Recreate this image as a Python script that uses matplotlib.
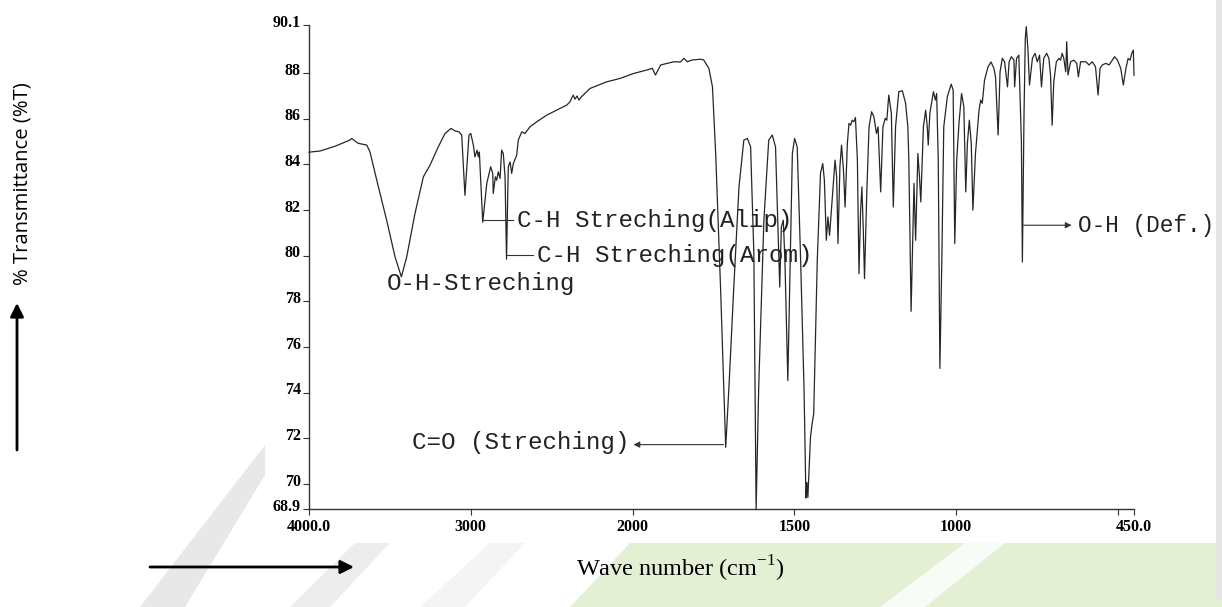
import numpy as np
import matplotlib
matplotlib.use("Agg")
import matplotlib.pyplot as plt
import matplotlib.transforms as mtransforms
from matplotlib.patches import Polygon, Rectangle
from matplotlib.ticker import NullLocator

# FT-IR spectrum: wavenumber (cm-1) and % transmittance
wavenumber = [
    4000, 3932, 3839, 3747, 3736, 3697, 3643, 3623, 3581, 3520,
    3468, 3429, 3396, 3345, 3293, 3252, 3201, 3159, 3122, 3097,
    3073, 3056, 3036, 3011, 3000, 2984, 2974, 2961, 2953, 2947,
    2926, 2916, 2901, 2877, 2864, 2861, 2848, 2840, 2830, 2819,
    2809, 2799, 2788, 2779, 2768, 2757, 2747, 2737, 2716, 2706,
    2685, 2665, 2634, 2592, 2531, 2469, 2407, 2386, 2376, 2366,
    2356, 2343, 2331, 2318, 2263, 2160, 2077, 1996, 1955, 1939,
    1929, 1913, 1872, 1852, 1841, 1831, 1815, 1790, 1780, 1764,
    1753, 1743, 1728, 1712, 1702, 1687, 1671, 1656, 1645, 1635,
    1625, 1618, 1610, 1594, 1579, 1568, 1558, 1548, 1545, 1540,
    1534, 1529, 1520, 1512, 1506, 1499, 1491, 1481, 1470, 1464,
    1461, 1458, 1450, 1445, 1440, 1429, 1419, 1412, 1407, 1401,
    1396, 1391, 1383, 1374, 1369, 1365, 1359, 1354, 1348, 1343,
    1336, 1331, 1326, 1321, 1316, 1311, 1305, 1300, 1295, 1291,
    1287, 1283, 1276, 1269, 1261, 1254, 1246, 1241, 1233, 1226,
    1219, 1214, 1208, 1200, 1194, 1187, 1177, 1166, 1156, 1149,
    1146, 1139, 1133, 1130, 1125, 1118, 1113, 1109, 1101, 1094,
    1089, 1086, 1081, 1070, 1064, 1060, 1055, 1050, 1044, 1038,
    1027, 1015, 1009, 1004, 998, 991, 983, 976, 970, 965,
    959, 953, 948, 940, 929, 924, 919, 912, 901, 892,
    883, 878, 870, 864, 857, 850, 841, 836, 829, 821,
    819, 813, 806, 798, 795, 790, 786, 783, 778, 773,
    764, 756, 749, 742, 736, 729, 720, 713, 708, 703,
    698, 690, 682, 677, 672, 667, 661, 658, 654, 646,
    636, 627, 622, 615, 599, 589, 579, 569, 561, 555,
    548, 537, 527, 517, 510, 501, 491, 483, 475, 468,
    462, 457, 452, 450,
]
transmittance = [
    84.53, 84.58, 84.79, 85.06, 85.13, 84.92, 84.84, 84.54, 83.30, 81.55,
    79.94, 79.07, 79.94, 81.84, 83.45, 83.96, 84.76, 85.35, 85.57, 85.46,
    85.42, 85.28, 82.64, 85.28, 85.35, 84.84, 84.32, 84.62, 84.32, 84.54,
    81.46, 82.13, 83.16, 83.89, 83.59, 82.72, 83.45, 83.30, 83.67, 83.38,
    84.62, 84.47, 83.45, 79.84, 83.89, 84.10, 83.60, 84.03, 84.40, 85.06,
    85.42, 85.35, 85.64, 85.86, 86.15, 86.37, 86.59, 86.74, 86.90, 87.03,
    86.85, 86.99, 86.81, 86.94, 87.32, 87.61, 87.76, 87.98, 88.13, 88.20,
    87.91, 88.35, 88.49, 88.48, 88.64, 88.49, 88.57, 88.60, 88.57, 88.20,
    87.40, 84.47, 78.62, 71.60, 74.24, 78.62, 83.00, 85.06, 85.13, 84.76,
    80.09, 68.87, 74.24, 81.55, 85.06, 85.28, 84.76, 80.09, 78.62, 81.25,
    81.55, 79.80, 74.53, 80.09, 84.47, 85.13, 84.76, 80.09, 74.24, 69.38,
    70.06, 69.41, 72.04, 72.63, 73.07, 79.79, 83.60, 84.03, 83.30, 80.67,
    81.69, 80.89, 82.43, 84.18, 83.45, 80.53, 83.89, 84.84, 83.74, 82.13,
    84.91, 85.79, 85.71, 85.93, 85.86, 86.05, 84.18, 79.21, 81.99, 83.01,
    81.25, 78.99, 82.72, 85.64, 86.30, 86.08, 85.35, 85.64, 82.79, 85.64,
    86.01, 85.93, 87.03, 86.23, 82.13, 85.64, 87.18, 87.22, 86.67, 85.64,
    84.18, 77.56, 81.25, 83.16, 80.67, 84.47, 83.45, 82.35, 85.64, 86.37,
    85.64, 84.84, 86.23, 87.18, 86.81, 87.10, 84.18, 75.06, 79.79, 85.64,
    86.96, 87.51, 87.25, 80.53, 84.18, 85.79, 87.10, 86.52, 82.79, 84.91,
    85.93, 84.91, 81.99, 84.47, 86.37, 86.81, 86.67, 87.69, 88.27, 88.48,
    88.20, 87.83, 85.28, 88.05, 88.64, 88.49, 87.39, 88.49, 88.71, 88.56,
    87.39, 88.64, 88.78, 84.98, 79.72, 86.15, 89.52, 90.03, 89.08, 87.47,
    88.64, 88.86, 88.49, 88.78, 87.39, 88.64, 88.86, 88.64, 87.91, 85.71,
    87.61, 88.49, 88.64, 88.56, 88.86, 88.64, 88.05, 89.37, 87.91, 88.49,
    88.56, 88.42, 87.83, 88.49, 88.49, 88.35, 88.49, 88.27, 87.03, 88.20,
    88.35, 88.42, 88.35, 88.56, 88.71, 88.56, 88.20, 87.47, 88.20, 88.64,
    88.56, 88.86, 89.00, 87.90,
]

# axis ticks
y_ticks = [68.9, 70, 72, 74, 76, 78, 80, 82, 84, 86, 88, 90.1]
y_tick_labels = ['68.9', '70', '72', '74', '76', '78', '80', '82', '84', '86', '88', '90.1']
x_ticks = [4000, 3000, 2000, 1500, 1000, 500, 450]
x_tick_labels = ['4000.0', '3000', '2000', '1500', '1000', '', '450.0']


# the chart paper doubles its scale below 2000 cm-1
def fwd(x):
    x = np.asarray(x, dtype=float)
    return np.where(x >= 2000, x, 2 * x - 2000)

def inv(y):
    y = np.asarray(y, dtype=float)
    return np.where(y >= 2000, y, (y + 2000) / 2)


plt.rcParams['mathtext.fontset'] = 'custom'
plt.rcParams['mathtext.rm'] = 'Liberation Serif'

W, H = 1222, 607
fig = plt.figure(figsize=(W / 100, H / 100), dpi=100)

# pixel (from top-left) -> figure fraction
def fp(x, y):
    return (x / W, 1 - y / H)

# page watermark behind the scan
for pts, col, a in [
    ([(140, 607), (185, 607), (265, 475), (265, 445)], '#cccccc', 0.45),
    ([(290, 607), (330, 607), (390, 543), (355, 543)], '#d2d2d2', 0.4),
    ([(420, 607), (465, 607), (525, 543), (490, 543)], '#dddddd', 0.3),
    ([(570, 607), (630, 543), (1222, 543), (1222, 607)], '#e3f0d4', 1.0),
    ([(880, 607), (925, 607), (1005, 543), (965, 543)], '#ffffff', 0.8),
]:
    fig.add_artist(Polygon([fp(*p) for p in pts], closed=True, transform=fig.transFigure,
                           facecolor=col, edgecolor='none', alpha=a, zorder=-2))
fig.add_artist(Rectangle(fp(1216, 600), 6 / W, 600 / H, transform=fig.transFigure,
                         facecolor='#e6e6e6', edgecolor='none', zorder=-2))

ax = fig.add_axes([309 / W, 1 - 509 / H, (1134 - 309) / W, (509 - 25) / H])
ax.patch.set_alpha(0)
ax.set_xscale('function', functions=(fwd, inv))

ax.plot(wavenumber, transmittance, color='#262626', linewidth=0.9, clip_on=False)

ax.set_xlim(4000, 450)
ax.set_ylim(68.9, 90.1)

for s in ['top', 'right']:
    ax.spines[s].set_visible(False)
for s in ['left', 'bottom']:
    ax.spines[s].set_color('#333333')
    ax.spines[s].set_linewidth(1.0)

tick_font = dict(family='Liberation Serif', weight='bold', size=11.5)
ax.set_xticks(x_ticks)
ax.set_xticklabels(x_tick_labels, **tick_font)
ax.set_yticks(y_ticks)
ax.set_yticklabels(y_tick_labels, **tick_font)
ax.xaxis.set_minor_locator(NullLocator())
ax.yaxis.set_minor_locator(NullLocator())
ax.tick_params(axis='both', direction='out', length=4, width=0.8, color='#333333', pad=3)
ax.tick_params(axis='y', pad=2)

# y labels sit a little above their ticks on the scan
shift = mtransforms.ScaledTranslation(0, 3 / 72, fig.dpi_scale_trans)
for lab in ax.get_yticklabels():
    lab.set_transform(lab.get_transform() + shift)

# band assignments
mono = dict(family='Liberation Mono', size=17.4, color='#222222')
ln = dict(color='#333333', linewidth=0.8)

ax.text(3518, 78.78, 'O-H-Streching', ha='left', va='center', **mono)

ax.plot([2926, 2737], [81.55, 81.55], **ln)
ax.text(2716, 81.55, 'C-H Streching(Alip)', ha='left', va='center', **mono)

ax.plot([2779, 2615], [80.01, 80.01], **ln)
ax.text(2592, 80.01, 'C-H Streching(Arom)', ha='left', va='center', **mono)

ax.annotate('', xy=(1997, 71.72), xytext=(1719, 71.72),
            arrowprops=dict(arrowstyle='-|>', color='#333333', lw=0.8,
                            mutation_scale=9, shrinkA=0, shrinkB=0))
ax.text(3365, 71.82, 'C=O (Streching)', ha='left', va='center', **mono)

ax.annotate('', xy=(643, 81.33), xytext=(791, 81.33),
            arrowprops=dict(arrowstyle='-|>', color='#333333', lw=0.8,
                            mutation_scale=9, shrinkA=0, shrinkB=0))
ax.text(622, 81.33, 'O-H (Def.)', ha='left', va='center', clip_on=False,
        **dict(mono, size=16.4))

# outer axis titles with arrows
fig.text(23 / W, 1 - 184 / H, '% Transmittance (%T)', rotation=90, ha='center', va='center',
         family='Open Sans', size=14.6)
fig.text(680 / W, 1 - 569 / H, r'Wave number (cm$^{\mathregular{-1}}$)', ha='center', va='center',
         family='Liberation Serif', size=17.5)

arrow = dict(arrowstyle='-|>', color='black', lw=2, mutation_scale=20, shrinkA=0, shrinkB=0)
ax.annotate('', xy=(17, H - 303), xycoords='figure pixels',
            xytext=(17, H - 450), textcoords='figure pixels', arrowprops=arrow)
ax.annotate('', xy=(354, H - 567), xycoords='figure pixels',
            xytext=(150, H - 567), textcoords='figure pixels', arrowprops=arrow)

fig.savefig('out.png', dpi=100)
